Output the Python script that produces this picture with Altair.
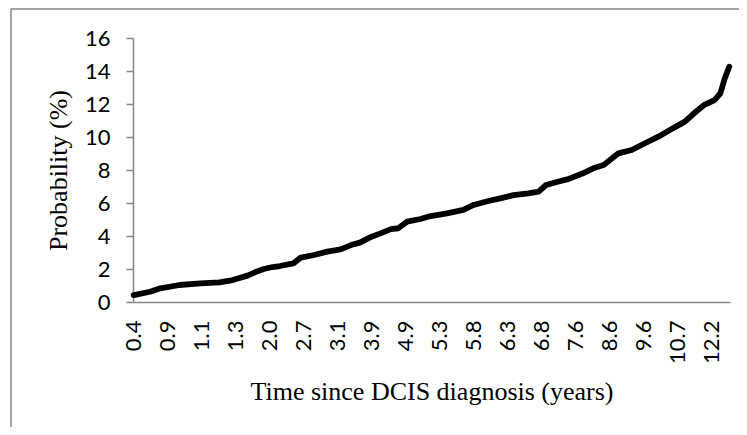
import altair as alt
import pandas as pd

# Category position along the (categorical) time axis, and cumulative probability (%)
cat_pos = [0, 11, 18, 31, 45, 58, 67, 77, 82, 88, 94, 99, 108, 113, 122, 131, 140, 147, 153, 160,
           167, 174, 179, 185, 194, 201, 212, 223, 230, 240, 248, 257, 267, 274, 279, 287, 294, 301,
           304, 312, 318, 328, 337, 346, 355, 364, 373, 380, 386, 393, 397, 400, 403]
prob = [0.42, 0.62, 0.83, 1.03, 1.13, 1.19, 1.33, 1.6, 1.8, 2.0, 2.12, 2.18, 2.34, 2.69, 2.85, 3.05,
        3.19, 3.45, 3.6, 3.92, 4.16, 4.42, 4.47, 4.87, 5.03, 5.21, 5.37, 5.58, 5.88, 6.12, 6.28, 6.48,
        6.59, 6.69, 7.09, 7.29, 7.45, 7.7, 7.8, 8.14, 8.3, 9.01, 9.21, 9.62, 10.02, 10.48, 10.93, 11.5,
        11.94, 12.24, 12.65, 13.56, 14.26]
n_categories = 404

# x-axis tick labels (years) and the category positions where they appear
tick_pos = [0, 23, 46, 69, 92, 115, 138, 161, 184, 207, 230, 253, 276, 299, 322, 345, 368, 391]
tick_labels = ["0.4", "0.9", "1.1", "1.3", "2.0", "2.7", "3.1", "3.9", "4.9", "5.3", "5.8", "6.3",
               "6.8", "7.6", "8.6", "9.6", "10.7", "12.2"]
y_ticks = [0, 2, 4, 6, 8, 10, 12, 14, 16]

df = pd.DataFrame({"pos": cat_pos, "prob": prob})

label_expr = "[" + ",".join("'%s'" % t for t in tick_labels) + "][indexof([" + \
    ",".join(str(p) for p in tick_pos) + "], datum.value)]"

GRAY = "#868686"
W, H = 597, 264

line = alt.Chart(df).mark_line(color="black", strokeWidth=5.8, strokeCap="round",
                               strokeJoin="round").encode(
    x=alt.X("pos:Q",
            scale=alt.Scale(domain=[-0.5, n_categories - 0.5], nice=False, zero=False),
            axis=alt.Axis(values=tick_pos, labelExpr=label_expr, labelAngle=-90,
                          labelAlign="right", labelBaseline="middle",
                          ticks=False, tickSize=0, labelPadding=18, grid=False,
                          domainColor=GRAY, domainWidth=1.5,
                          labelFont="Lato", labelFontSize=22, labelColor="black",
                          title="Time since DCIS diagnosis (years)",
                          titleFont="Liberation Serif", titleFontSize=26,
                          titleFontWeight="normal", titleColor="black",
                          titleX=W / 2, titleY=97, titleBaseline="alphabetic",
                          titleAlign="center")),
    y=alt.Y("prob:Q",
            scale=alt.Scale(domain=[0, 16], nice=False),
            axis=alt.Axis(values=y_ticks, grid=False, ticks=True, tickSize=7,
                          tickColor=GRAY, tickWidth=1.5, domainColor=GRAY, domainWidth=1.5,
                          labelPadding=16, labelFont="Lato", labelFontSize=22,
                          labelColor="black",
                          title="Probability (%)", titleFont="Liberation Serif",
                          titleFontSize=26, titleFontWeight="normal", titleColor="black",
                          titleAngle=-90, titleX=-67, titleY=H / 2,
                          titleBaseline="alphabetic", titleAlign="center")),
)

frame_df = pd.DataFrame({"k": [0]})
frame_left = alt.Chart(frame_df).mark_rule(color=GRAY, strokeWidth=1.5).encode(
    x=alt.value(-122), y=alt.value(-29), y2=alt.value(389))
frame_top = alt.Chart(frame_df).mark_rule(color=GRAY, strokeWidth=1.5).encode(
    x=alt.value(-122), x2=alt.value(606), y=alt.value(-29))

chart = alt.layer(frame_left, frame_top, line).properties(
    width=W, height=H,
    autosize=alt.AutoSizeParams(type="none"),
    padding={"left": 125, "top": 30, "right": 9, "bottom": 125},
).configure_view(stroke=None)

chart.save("out.html", embed_options={"renderer": "svg", "actions": False})
